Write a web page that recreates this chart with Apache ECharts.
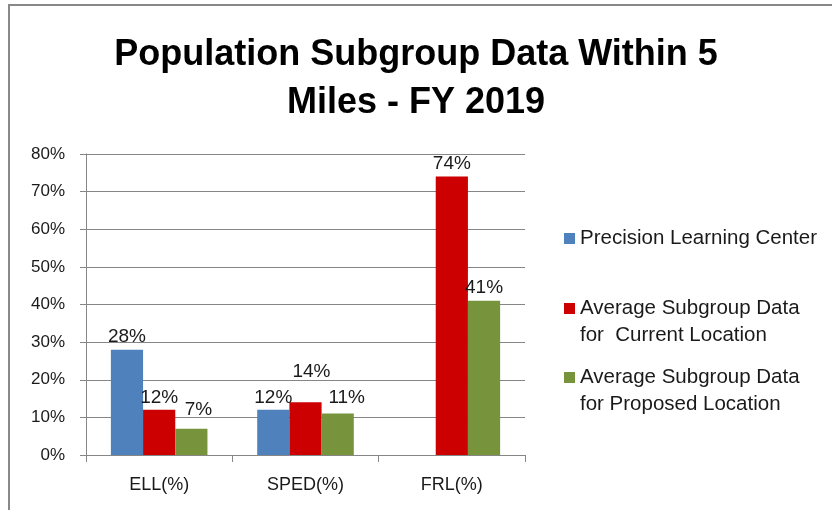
<!DOCTYPE html>
<html lang="en">
<head>
    <meta charset="UTF-8">
    <title>Population Subgroup Data</title>
    <style>
        body { margin: 0; background: #fff; }
    </style>
</head>
<body>
<div id="main" style="width: 832px;height:510px;"></div>
<script type="text/javascript" src="https://cdn.jsdelivr.net/npm/echarts@6/dist/echarts.min.js"></script>
<script type="text/javascript">

    // data (percent)
    var categories = ['ELL(%)', 'SPED(%)', 'FRL(%)'];
    var seriesNames = ['Precision Learning Center', 'Average Subgroup Data for  Current Location', 'Average Subgroup Data for Proposed Location'];
    var plcValues = [28, 12, null];
    var currentValues = [12, 14, 74];
    var proposedValues = [7, 11, 41];
    var yTicks = [0, 10, 20, 30, 40, 50, 60, 70, 80];

    var colors = ['#4f81bd', '#cc0000', '#77933c'];
    var font = 'Liberation Sans, Arial, sans-serif';

    // small nudges for labels that were moved by hand in the original (series-index)
    var labelNudge = {
        '1-1': [6, -18],
        '2-0': [7, -6],
        '2-1': [9, -3]
    };

    function makeSeries(idx, values) {
        return {
            name: seriesNames[idx],
            type: 'bar',
            barCategoryGap: '34%',
            barGap: '0%',
            itemStyle: { color: colors[idx] },
            label: {
                show: true,
                position: 'top',
                distance: 3,
                color: '#1a1a1a',
                fontFamily: font,
                fontSize: 19,
                formatter: '{c}%'
            },
            data: values.map(function (v, i) {
                var item = { value: v };
                var n = labelNudge[idx + '-' + i];
                if (n) item.label = { offset: n };
                return item;
            })
        };
    }

    var myChart = echarts.init(document.getElementById('main'));

    // square sitting at the top of a taller box, so it lines up with the first text line
    var squareIcon = 'path://M0,0L11,0L11,11L0,11Z M0,38L0.01,38L0.01,38.01Z';

    function legendAt(idx, top, text) {
        var twoLines = text.indexOf('\n') >= 0;
        return {
            left: 559,
            top: top,
            orient: 'vertical',
            icon: twoLines ? squareIcon : 'rect',
            itemWidth: 11,
            itemHeight: twoLines ? 38 : 11,
            itemGap: 0,
            selectedMode: false,
            data: [seriesNames[idx]],
            formatter: function () { return text; },
            textStyle: {
                color: '#1a1a1a',
                fontFamily: font,
                fontSize: 20.5,
                lineHeight: 27
            }
        };
    }

    myChart.setOption({
        animation: false,
        title: {
            text: 'Population Subgroup Data Within 5\nMiles - FY 2019',
            left: 'center',
            top: 26,
            textStyle: {
                fontFamily: font,
                fontWeight: 'bold',
                fontSize: 36,
                lineHeight: 48,
                color: '#000'
            }
        },
        legend: [
            legendAt(0, 220, 'Precision Learning Center'),
            legendAt(1, 290, 'Average Subgroup Data\nfor  Current Location'),
            legendAt(2, 359, 'Average Subgroup Data\nfor Proposed Location')
        ],
        grid: {
            left: 86,
            right: 307,
            top: 154,
            bottom: 55,
            containLabel: false
        },
        xAxis: {
            type: 'category',
            data: categories,
            axisLine: { lineStyle: { color: '#868686', width: 1 } },
            axisTick: { show: true, length: 7, lineStyle: { color: '#868686' } },
            axisLabel: {
                color: '#1a1a1a',
                fontFamily: font,
                fontSize: 18,
                margin: 21
            }
        },
        yAxis: {
            type: 'value',
            min: yTicks[0],
            max: yTicks[yTicks.length - 1],
            interval: 10,
            axisLine: { show: true, lineStyle: { color: '#868686', width: 1 } },
            axisTick: { show: true, length: 6, lineStyle: { color: '#868686' } },
            axisLabel: {
                color: '#1a1a1a',
                fontFamily: font,
                fontSize: 17,
                margin: 21,
                formatter: '{value}%'
            },
            splitLine: { lineStyle: { color: '#868686', width: 1 } }
        },
        graphic: [
            {
                type: 'polyline',
                shape: { points: [[9, 510], [9, 5], [832, 5]] },
                style: { stroke: '#888', lineWidth: 2, fill: null }
            }
        ],
        series: [
            makeSeries(0, plcValues),
            makeSeries(1, currentValues),
            makeSeries(2, proposedValues)
        ]
    });
</script>
</body>
</html>
